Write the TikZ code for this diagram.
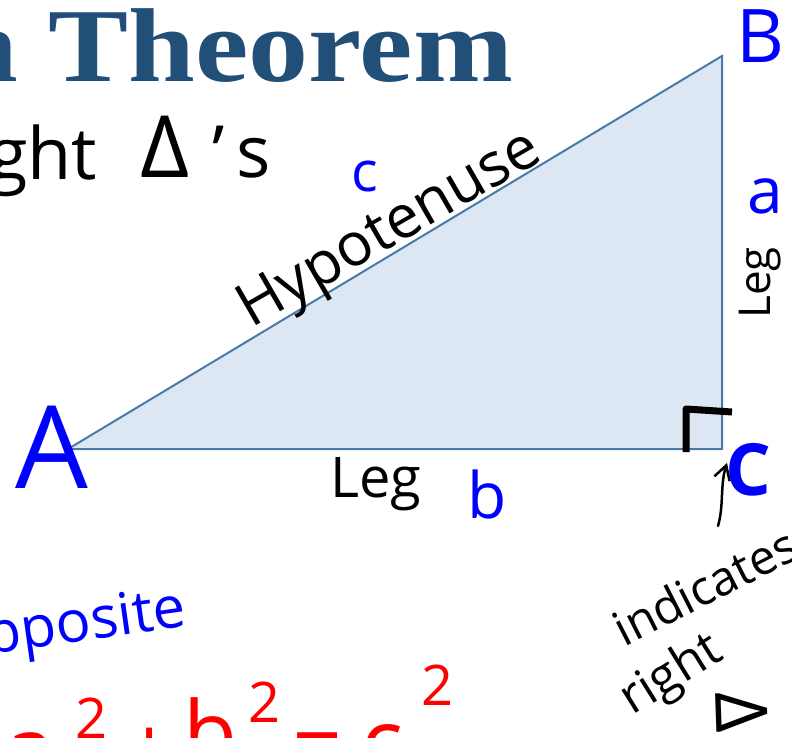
\documentclass[tikz,border=0pt]{standalone}
\usepackage{fontspec}
\setmainfont{Open Sans}
\newfontfamily\titlefont{Liberation Serif}
\usetikzlibrary{arrows.meta}
\definecolor{titleblue}{RGB}{33,79,120}
\definecolor{trifill}{RGB}{220,231,243}
\definecolor{triedge}{RGB}{74,122,168}
\definecolor{inkblue}{RGB}{0,0,255}
\definecolor{inkred}{RGB}{255,0,0}
\tikzset{
  hand/.style={inner sep=0pt, outer sep=0pt},
  fs/.style={font=\fontsize{#1}{#1}\selectfont},
  blk/.style={hand, text=black},
  blu/.style={hand, text=inkblue},
  rd/.style={hand, text=inkred},
  pen/.style={line width=#1, line cap=round, line join=round},
}
\begin{document}
\begin{tikzpicture}[x=1pt,y=-1pt]
\useasboundingbox (0,0) rectangle (792,738);
% title
\node[hand, anchor=base east, text=titleblue, xscale=1.2, yscale=1.05,
      font=\titlefont\bfseries\fontsize{100}{100}\selectfont] (title) at (513,82) {n Theorem};
% heading line
\node[blk, fs=72, anchor=base west] (ght) at (-12,180) {ght};
\node[blk, fs=86, anchor=base west] (delta) at (140,178) {Δ};
\node[blk, fs=72, anchor=base west] (aps) at (212,178) {’\,s};
% triangle
\coordinate (pA) at (68,449);
\coordinate (pB) at (722,56);
\coordinate (pC) at (722,449);
\filldraw[fill=trifill, draw=triedge, line width=2pt, line join=miter] (pA) -- (pB) -- (pC) -- cycle;
% right angle mark
\coordinate (rm1) at (686,452);
\coordinate (rm2) at (686,409);
\coordinate (rm3) at (732,412);
\draw[pen=7pt, line cap=butt] (rm1) -- (rm2) -- (rm3);
% vertex labels
\node[blu, fs=115, anchor=base] (labA) at (52,488) {A};
\node[blu, fs=74, anchor=base] (labB) at (760,63) {B};
\node[blu, anchor=base, font=\bfseries\fontsize{72}{72}\selectfont] (labC) at (748,495) {C};
% side labels
\node[blk, fs=60, rotate=30, anchor=base] (hyp) at (398,244) {Hypotenuse};
\node[blu, fs=56, anchor=base] (labc) at (365,192) {c};
\node[blu, fs=64, anchor=base] (laba) at (765,214) {a};
\node[blk, fs=44, rotate=90, anchor=base] (legr) at (770,283) {Leg};
\node[blk, fs=56, anchor=base] (legb) at (376,497) {Leg};
\node[blu, fs=64, anchor=base] (labb) at (487,518) {b};
% arrow to C / right angle
\coordinate (arS) at (718,526);
\coordinate (arE) at (727,463);
\draw[pen=2.5pt, -{Straight Barb[length=14pt,width=16pt]}] (arS) .. controls (724,505) and (720,485) .. (arE);
% notes
\node[blk, fs=48, rotate=27, anchor=center] (indic) at (705,586) {indicates};
\node[blk, fs=50, rotate=32, anchor=center] (right) at (672,676) {right};
\node[blk, fs=72, rotate=-88, anchor=center] (tri) at (742,712) {Δ};
\node[blu, fs=58, rotate=8, anchor=center] (opp) at (86,626) {pposite};
% equation
\node[rd, fs=88, anchor=base] (ea) at (30,780) {a};
\node[rd, fs=56, anchor=base] (e2a) at (92,738) {2};
\node[rd, fs=88, anchor=base] (eplus) at (150,780) {+};
\node[rd, fs=88, anchor=base] (eb) at (210,764) {b};
\node[rd, fs=56, anchor=base] (e2b) at (265,722) {2};
\node[rd, fs=88, anchor=base] (eeq) at (318,775) {=};
\node[rd, fs=88, anchor=base] (ec) at (382,772) {c};
\node[rd, fs=56, anchor=base] (e2c) at (438,705) {2};
\end{tikzpicture}
\end{document}
